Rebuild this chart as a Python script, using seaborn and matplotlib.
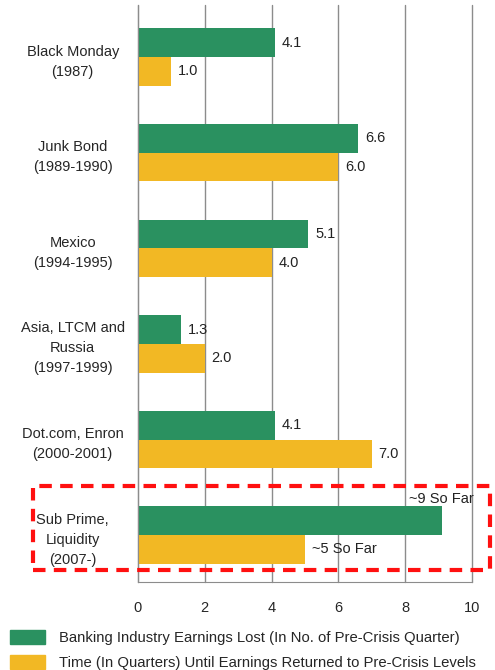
import pandas as pd
import matplotlib.pyplot as plt
import seaborn as sns
from matplotlib.patches import Rectangle

# data
crises = ['Black Monday\n(1987)', 'Junk Bond\n(1989-1990)', 'Mexico\n(1994-1995)',
          'Asia, LTCM and\nRussia\n(1997-1999)', 'Dot.com, Enron\n(2000-2001)',
          'Sub Prime,\nLiquidity\n(2007-)']
earnings_lost = [4.1, 6.6, 5.1, 1.3, 4.1, 9.1]
time_to_recover = [1.0, 6.0, 4.0, 2.0, 7.0, 5.0]
lost_labels = ['4.1', '6.6', '5.1', '1.3', '4.1', '']
recover_labels = ['1.0', '6.0', '4.0', '2.0', '7.0', '~5 So Far']
series_names = ['Banking Industry Earnings Lost (In No. of Pre-Crisis Quarter)',
                'Time (In Quarters) Until Earnings Returned to Pre-Crisis Levels']
x_ticks = [0, 2, 4, 6, 8, 10]

green = '#2A9160'
orange = '#F2B824'
fs = 10.5

df = pd.DataFrame({
    'crisis': crises * 2,
    'value': earnings_lost + time_to_recover,
    'series': [series_names[0]] * 6 + [series_names[1]] * 6,
})

sns.set_style('white')
plt.rcParams['font.family'] = ['Liberation Sans', 'DejaVu Sans']

fig = plt.figure(figsize=(4.95, 6.70), dpi=100)
ax = fig.add_axes([138 / 495, 1 - 582 / 670, (472 - 138) / 495, 577 / 670])

sns.barplot(data=df, y='crisis', x='value', hue='series', order=crises,
            hue_order=series_names, orient='h', palette=[green, orange],
            width=0.6, saturation=1, edgecolor='none', ax=ax, legend=False)

ax.bar_label(ax.containers[0], labels=lost_labels, padding=5, fontsize=fs, color='#222222')
ax.bar_label(ax.containers[1], labels=recover_labels, padding=5, fontsize=fs, color='#222222')
ax.text(10.05, 5 - 0.31, '~9 So Far', ha='right', va='bottom', fontsize=fs, color='#222222')

ax.set_xlim(0, 10)
ax.set_ylim(5.49, -0.544)
ax.set_xticks(x_ticks)
ax.set_xticklabels([str(t) for t in x_ticks], fontsize=fs)
ax.set_xlabel('')
ax.set_ylabel('')
ax.xaxis.grid(True, color='#8c8c8c', lw=1)
for gl in ax.get_xgridlines():
    gl.set_clip_on(False)
ax.set_axisbelow(True)
for s in ['top', 'right']:
    ax.spines[s].set_visible(False)
for s in ['left', 'bottom']:
    ax.spines[s].set_color('#8c8c8c')
ax.tick_params(axis='x', length=0, pad=14)
ax.tick_params(axis='y', length=0, pad=47)
for lbl in ax.get_yticklabels():
    lbl.set_ha('center')
    lbl.set_multialignment('center')
    lbl.set_fontsize(fs)
    lbl.set_linespacing(1.55)

# red dashed highlight around the sub prime group
fig.patches.append(Rectangle((33 / 495, 1 - 570 / 670), 457 / 495, 84 / 670,
                             transform=fig.transFigure, fill=False, ec='#FF1010',
                             lw=3, ls=(0, (3, 2))))

handles = [Rectangle((0, 0), 1, 1, color=green), Rectangle((0, 0), 1, 1, color=orange)]
fig.legend(handles, series_names, loc='upper left', bbox_to_anchor=(0.0, 1 - 620 / 670),
           frameon=False, fontsize=10.7, handlelength=2.3, handleheight=1.08,
           handletextpad=1.0, labelspacing=0.62, borderaxespad=0.3)

fig.savefig('out.png', dpi=100)
